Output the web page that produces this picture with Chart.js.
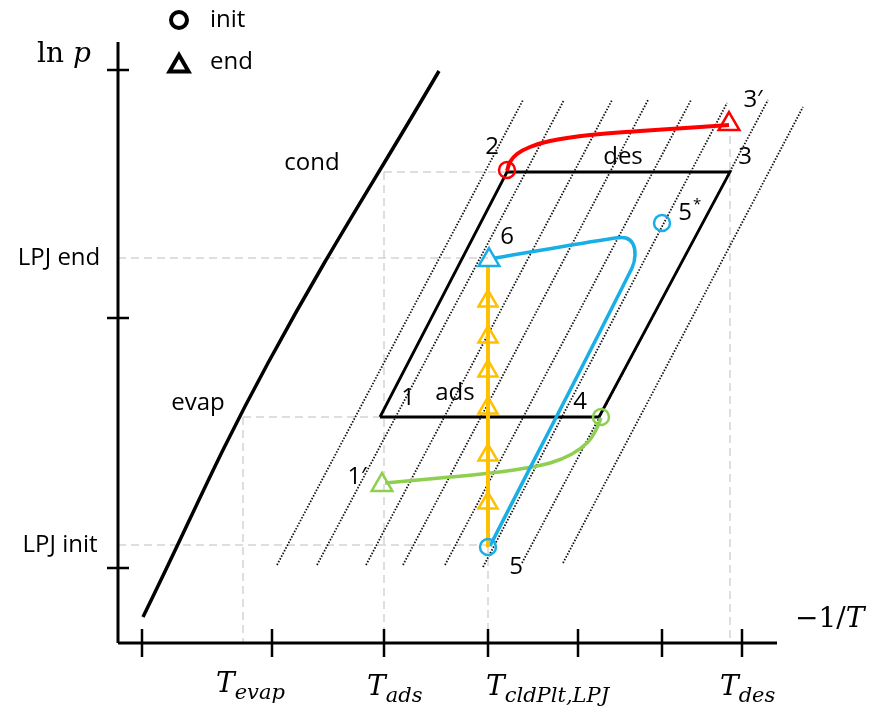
<!DOCTYPE html>
<html lang="en">
<head>
<meta charset="UTF-8" />
<title>Adsorption cycle - ln p over -1/T</title>
<script src="https://cdn.jsdelivr.net/npm/chart.js"></script>
<style>
  body { margin: 0; background: #fff; }
  canvas { display: block; }
</style>
</head>
<body>
<canvas id="cycleChart" width="883" height="710"></canvas>
<script>
  // coordinates: x = distance right of the ln p axis, y = height above the -1/T axis

  // saturation line (evap .. cond)
  const satX = [25, 150, 321];
  const satY = [26, 280, 572];

  // cycle 1-4-3-2-1
  const cycleX = [262, 481, 612, 389, 262];
  const cycleY = [226, 226, 471, 471, 226];

  // isosters (dotted), bottom and top ends
  const isoX0 = [159, 199, 248, 285, 327, 365, 404, 445];
  const isoY0 = [78, 78, 78, 78, 78, 76, 80, 80];
  const isoX1 = [405, 446, 494, 530, 573, 609, 650, 685];
  const isoY1 = [543, 543, 543, 543, 543, 540, 543, 536];

  // desorption 2 -> 3'
  const desX = [389, 392, 399, 412, 432, 472, 522, 582, 611];
  const desY = [472, 481, 489, 496, 502, 508, 512, 516, 518];

  // adsorption 4 -> 1'
  const adsX = [483, 478, 470, 454, 432, 402, 372, 322, 267];
  const adsY = [225, 213, 201, 189, 180, 174, 170, 165, 160];

  // LPJ 5 -> 6
  const lpjX = [372, 514, 517, 515, 508, 497, 377];
  const lpjY = [97, 375, 388, 399, 405, 405, 385];

  // cold plate at constant T
  const coldX = [370, 370];
  const coldY = [96, 378];
  const coldMarkY = [342, 306, 272, 235, 188, 140];

  // helper lines (dashed)
  const guides = [
    [[266, 389], [471, 471]],
    [[266, 266], [471, 0]],
    [[0, 370], [385, 385]],
    [[125, 262], [226, 226]],
    [[125, 125], [226, 0]],
    [[0, 370], [98, 98]],
    [[370, 370], [98, 0]],
    [[612, 612], [507, 0]]
  ];

  // axes
  const xAxisEnd = 659;
  const yAxisEnd = 601;
  const xTicks = [24, 154, 266, 370, 460, 544, 624];
  const yTicks = [75, 325, 573];

  const textLabels = [
    ['init', 92, 623, 'left'], ['end', 92, 581, 'left'],
    ['cond', 194, 480], ['evap', 80, 240],
    ['LPJ end', -59, 385], ['LPJ init', -58, 98],
    ['2', 374, 496], ['des', 505, 486], ['3', 627, 486], ['3\u2032', 635, 543],
    ['5', 567, 430], ['6', 389, 406], ['1', 290, 245], ['ads', 337, 250],
    ['4', 462, 241], ['1\u2032', 239, 166], ['5', 398, 76]
  ];
  const mathLabels = [
    { x: -81, y: 581, runs: [['ln ', 'r'], ['p', 'i']] },
    { x: 677, y: 16, runs: [['\u22121/', 'r'], ['T', 'i']] },
    { x: 98, y: -49, runs: [['T', 'i'], ['evap', 's']] },
    { x: 249, y: -52, runs: [['T', 'i'], ['ads', 's']] },
    { x: 368, y: -52, runs: [['T', 'i'], ['cldPlt,LPJ', 's']] },
    { x: 602, y: -52, runs: [['T', 'i'], ['des', 's']] }
  ];

  const RED = '#ff0000', BLUE = '#19aee6', GREEN = '#8fcf50', ORANGE = '#ffc000';

  function pts(xs, ys) { return xs.map((x, i) => ({ x: x, y: ys[i] })); }

  function line(xs, ys, style) {
    return Object.assign({
      data: pts(xs, ys), showLine: true, pointRadius: 0, fill: false,
      clip: false, tension: 0, borderCapStyle: 'butt'
    }, style);
  }

  function marker(xs, ys, shape, r, color, width, order) {
    return {
      data: pts(xs, ys), showLine: false, pointStyle: shape, pointRadius: r,
      pointBorderWidth: width, borderColor: color, pointBorderColor: color,
      backgroundColor: 'rgba(0,0,0,0)', pointBackgroundColor: 'rgba(0,0,0,0)',
      clip: false, order: order
    };
  }

  const datasets = [];

  guides.forEach(g => datasets.push(line(g[0], g[1], {
    borderColor: '#d4d4d4', borderWidth: 1.5, borderDash: [8, 5], order: 90
  })));

  isoX0.forEach((x, i) => datasets.push(line([x, isoX1[i]], [isoY0[i], isoY1[i]], {
    borderColor: '#111', borderWidth: 1.8, borderDash: [1.5, 1.6], order: 80
  })));

  // axes and ticks
  datasets.push(line([0, 0], [0, yAxisEnd], { borderColor: '#000', borderWidth: 3, order: 70 }));
  datasets.push(line([0, xAxisEnd], [0, 0], { borderColor: '#000', borderWidth: 3, order: 70 }));
  xTicks.forEach(t => datasets.push(line([t, t], [-14, 14], { borderColor: '#000', borderWidth: 2.5, order: 70 })));
  yTicks.forEach(t => datasets.push(line([-11, 11], [t, t], { borderColor: '#000', borderWidth: 2.5, order: 70 })));

  datasets.push(line(satX, satY, { borderColor: '#000', borderWidth: 3.5, tension: 0.4, order: 60 }));
  datasets.push(line(cycleX, cycleY, { borderColor: '#000', borderWidth: 2.8, order: 50 }));

  datasets.push(line(adsX, adsY, { borderColor: GREEN, borderWidth: 3.5, tension: 0.4, order: 40 }));
  datasets.push(line(lpjX, lpjY, { borderColor: BLUE, borderWidth: 3.5, tension: 0.35, order: 35 }));
  datasets.push(line(coldX, coldY, { borderColor: ORANGE, borderWidth: 4, order: 30 }));
  datasets.push(line(desX, desY, { borderColor: RED, borderWidth: 4, tension: 0.4, order: 25 }));

  // start / end markers
  datasets.push(marker(coldMarkY.map(() => coldX[0]), coldMarkY, 'triangle', 11, ORANGE, 2.5, 20));
  datasets.push(marker([389], [473], 'circle', 8, RED, 2.5, 10));
  datasets.push(marker([611], [519], 'triangle', 12, RED, 2.5, 10));
  datasets.push(marker([370, 544], [96, 420], 'circle', 8, BLUE, 2.5, 10));
  datasets.push(marker([371], [383], 'triangle', 12, BLUE, 2.5, 10));
  datasets.push(marker([483], [226], 'circle', 8, GREEN, 2.5, 10));
  datasets.push(marker([264], [158], 'triangle', 12, GREEN, 2.5, 10));

  // legend symbols
  datasets.push(marker([61], [623], 'circle', 8, '#000', 4, 5));
  datasets.push(marker([61], [577], 'triangle', 11, '#000', 4, 5));

  const labelPlugin = {
    id: 'labels',
    afterDatasetsDraw(chart) {
      const { ctx, scales: { x, y } } = chart;
      ctx.save();
      ctx.fillStyle = '#000';
      ctx.textBaseline = 'middle';
      ctx.font = '24px "Open Sans", sans-serif';
      textLabels.forEach(l => {
        ctx.textAlign = l[3] || 'center';
        ctx.fillText(l[0], x.getPixelForValue(l[1]), y.getPixelForValue(l[2]));
      });
      // superscript star of 5*
      ctx.font = '15px "Open Sans", sans-serif';
      ctx.textAlign = 'left';
      ctx.fillText('*', x.getPixelForValue(575), y.getPixelForValue(438));

      const fonts = {
        r: '28px "DejaVu Serif", serif',
        i: 'italic 28px "DejaVu Serif", serif',
        s: 'italic 21px "DejaVu Serif", serif'
      };
      ctx.textBaseline = 'alphabetic';
      mathLabels.forEach(m => {
        let px = x.getPixelForValue(m.x);
        const base = y.getPixelForValue(m.y);
        m.runs.forEach(([txt, kind]) => {
          ctx.font = fonts[kind];
          ctx.fillText(txt, px, kind === 's' ? base + 7 : base);
          px += ctx.measureText(txt).width;
        });
      });
      ctx.restore();
    }
  };

  new Chart(document.getElementById('cycleChart'), {
    type: 'scatter',
    data: { datasets: datasets },
    options: {
      responsive: false,
      animation: false,
      events: [],
      layout: { padding: 0, autoPadding: false },
      scales: {
        x: { type: 'linear', min: -118, max: 765, display: false },
        y: { type: 'linear', min: -67, max: 643, display: false }
      },
      plugins: { legend: { display: false }, tooltip: { enabled: false } }
    },
    plugins: [labelPlugin]
  });
</script>
</body>
</html>
